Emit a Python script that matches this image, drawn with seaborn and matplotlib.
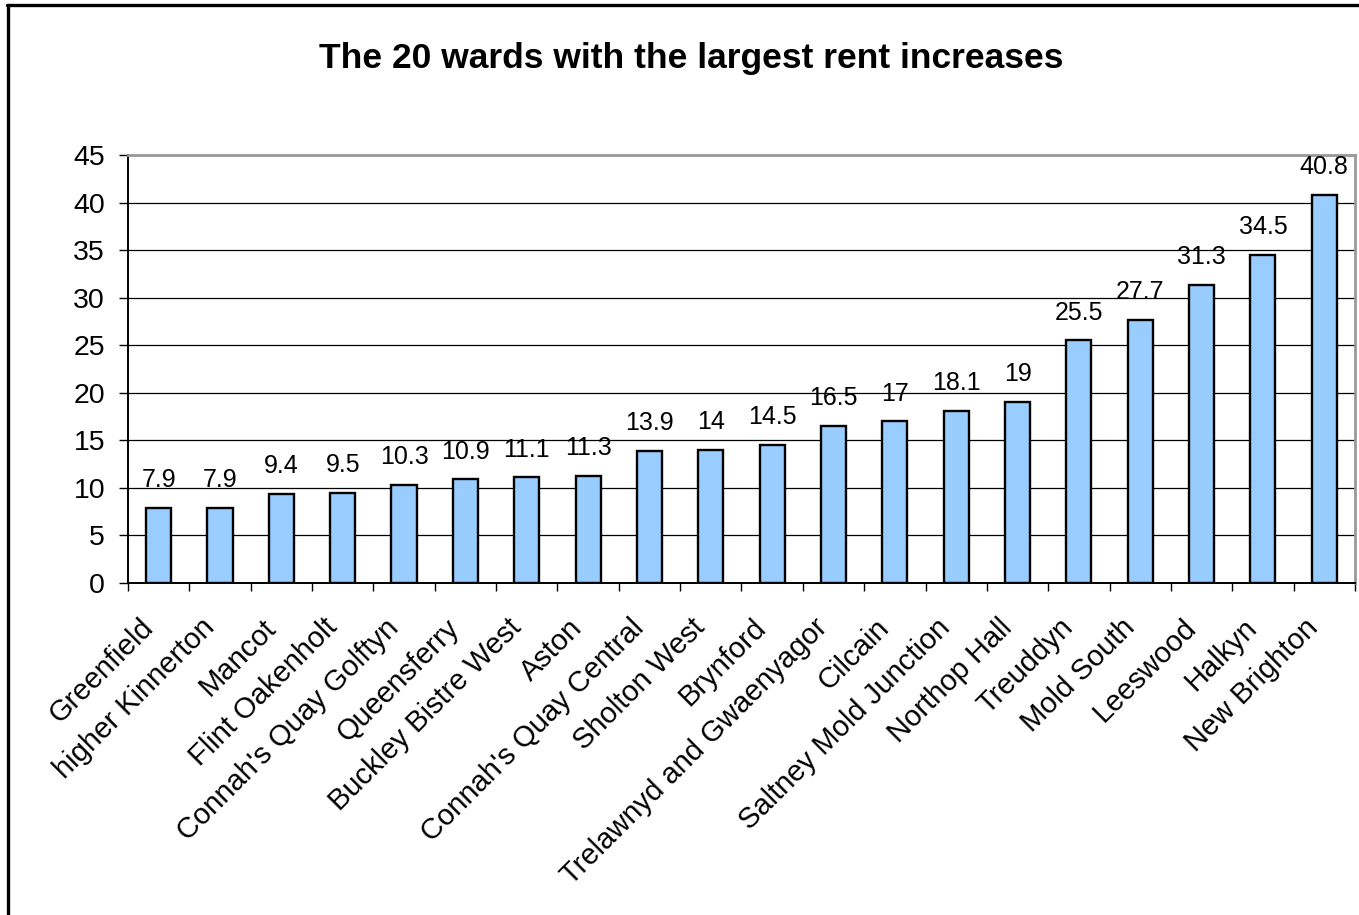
import matplotlib
matplotlib.use("Agg")
import matplotlib.pyplot as plt
import matplotlib.transforms as mtransforms
from matplotlib.lines import Line2D
import seaborn as sns
import pandas as pd
import numpy as np

wards = [
    "Greenfield", "higher Kinnerton", "Mancot", "Flint Oakenholt",
    "Connah's Quay Golftyn", "Queensferry", "Buckley Bistre West", "Aston",
    "Connah's Quay Central", "Sholton West", "Brynford",
    "Trelawnyd and Gwaenyagor", "Cilcain", "Saltney Mold Junction",
    "Northop Hall", "Treuddyn", "Mold South", "Leeswood", "Halkyn",
    "New Brighton",
]
increases = [7.9, 7.9, 9.4, 9.5, 10.3, 10.9, 11.1, 11.3, 13.9, 14, 14.5,
             16.5, 17, 18.1, 19, 25.5, 27.7, 31.3, 34.5, 40.8]
value_labels = ["7.9", "7.9", "9.4", "9.5", "10.3", "10.9", "11.1", "11.3",
                "13.9", "14", "14.5", "16.5", "17", "18.1", "19", "25.5",
                "27.7", "31.3", "34.5", "40.8"]
y_ticks = [0, 5, 10, 15, 20, 25, 30, 35, 40, 45]
title = "The 20 wards with the largest rent increases"

sns.set_theme(style="white")
plt.rcParams["font.family"] = ["Liberation Sans", "DejaVu Sans"]

df = pd.DataFrame({"ward": wards, "increase": increases})

fig = plt.figure(figsize=(13.59, 9.15), dpi=100)
ax = fig.add_axes([0.0942, 0.3628, 0.9028, 0.4678])

sns.barplot(data=df, x="ward", y="increase", ax=ax, color="#99CCFF",
            saturation=1, width=0.41, edgecolor="black", linewidth=1.7,
            zorder=3)

ax.set_xlim(-0.5, len(wards) - 0.5)
ax.set_ylim(0, 45)
ax.set_yticks(y_ticks)
ax.set_yticklabels([str(t) for t in y_ticks], fontsize=20.5)
ax.set_xlabel("")
ax.set_ylabel("")

# horizontal gridlines
ax.yaxis.grid(True, color="black", linewidth=0.9, zorder=0)
ax.xaxis.grid(False)
ax.set_axisbelow(True)

# spines: black axes, grey frame on top/right
for side in ("left", "bottom"):
    ax.spines[side].set_color("black")
    ax.spines[side].set_linewidth(1.4)
for side in ("top", "right"):
    ax.spines[side].set_color("#999999")
    ax.spines[side].set_linewidth(2.0)
    ax.spines[side].set_visible(True)

ax.tick_params(axis="y", which="major", left=True, length=6.5, width=1,
               color="black", pad=10, labelcolor="black")

# category labels, with tick marks at category boundaries
ax.set_xticks(np.arange(len(wards)))
ax.set_xticklabels(wards, rotation=45, ha="right", va="center",
                   rotation_mode="anchor", fontsize=21, color="black")
ax.tick_params(axis="x", which="major", bottom=True, length=0, pad=29)
shift = mtransforms.ScaledTranslation(-10 / 100, 0, fig.dpi_scale_trans)
for lbl in ax.get_xticklabels():
    lbl.set_transform(lbl.get_transform() + shift)
ax.set_xticks(np.arange(len(wards) + 1) - 0.5, minor=True)
ax.tick_params(axis="x", which="minor", bottom=True, length=6, width=1,
               color="black")

# value labels above the bars
for i, (v, lab) in enumerate(zip(increases, value_labels)):
    ax.annotate(lab, xy=(i, v), xytext=(0, 15), textcoords="offset points",
                ha="center", va="baseline", fontsize=18, color="black")

fig.text(0.509, 0.936, title, ha="center", va="center", fontsize=25.5,
         fontweight="bold", color="black")

# chart frame (left and top edges)
fig.add_artist(Line2D([0.0062, 0.0062], [0.0, 0.9945], transform=fig.transFigure,
                      color="black", linewidth=2.4))
fig.add_artist(Line2D([0.0052, 1.0], [0.9945, 0.9945], transform=fig.transFigure,
                      color="black", linewidth=2.4))

fig.savefig("out.png", dpi=100, facecolor="white")
